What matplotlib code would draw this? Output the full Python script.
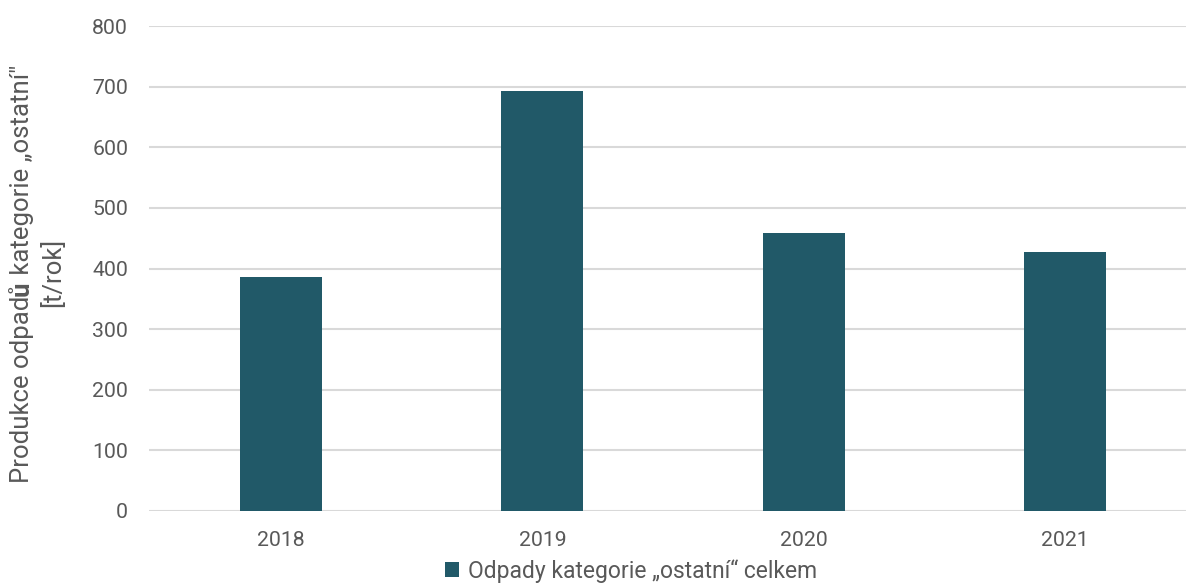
import matplotlib
matplotlib.use("Agg")
import matplotlib.pyplot as plt

years = ["2018", "2019", "2020", "2021"]
values = [386, 692, 458, 427]
series_name = "Odpady kategorie „ostatní“ celkem"
yticks = [0, 100, 200, 300, 400, 500, 600, 700, 800]

bar_color = "#215968"
text_color = "#595959"
grid_color = "#d9d9d9"
font = ["Roboto", "DejaVu Sans"]

plt.rcParams["font.family"] = font

W, H = 1186, 585
fig = plt.figure(figsize=(W / 100, H / 100), dpi=100)
ax = fig.add_axes([149 / W, 74 / H, (1186 - 149) / W, (511 - 26) / H])

x = list(range(len(years)))
bars = ax.bar(x, values, width=0.314, color=bar_color, zorder=3, label=series_name)

ax.set_xlim(-0.505, 3.463)
ax.set_ylim(0, 800)
ax.set_yticks(yticks)
ax.set_xticks(x)
ax.set_xticklabels(years)
ax.yaxis.grid(True, color=grid_color, linewidth=1.5, zorder=0)
for s in ax.spines.values():
    s.set_visible(False)
ax.tick_params(axis="both", length=0, labelsize=15.3, colors=text_color)
ax.tick_params(axis="y", pad=15)
ax.tick_params(axis="x", pad=14.5)

# Legend below the plot area
leg = fig.legend(handles=[bars], labels=[series_name], loc="center",
                 bbox_to_anchor=(631 / W, 1 - 571 / H), frameon=False,
                 fontsize=16.5, handlelength=0.6, handleheight=0.6,
                 handletextpad=0.4, labelcolor=text_color)

# Two-line y label; the "ů" in the first line is set in bold
fig.canvas.draw()
renderer = fig.canvas.get_renderer()
parts = [("Produkce odpad", "normal"), ("ů", "bold"), (" kategorie „ostatní\"", "normal")]


def measure(fs):
    out = []
    for txt, wt in parts:
        t = fig.text(0, 0, txt, rotation=90, fontsize=fs, fontweight=wt,
                     color=text_color)
        out.append(t.get_window_extent(renderer).height)
        t.remove()
    return out


fs_label = 15.5
total = sum(measure(fs_label))
fs_label = fs_label * 418 / total
sizes = measure(fs_label)
total = sum(sizes)
center_y = H - 274
x1 = 22
y = center_y - total / 2
for (txt, wt), h in zip(parts, sizes):
    fig.text(x1 / W, y / H, txt, rotation=90, fontsize=fs_label, fontweight=wt,
             color=text_color, ha="left", va="center", rotation_mode="anchor")
    y += h
fig.text(53 / W, (H - 272) / H, "[t/rok]", rotation=90, fontsize=fs_label,
         color=text_color, ha="center", va="center")

fig.savefig("out.png", dpi=100)
